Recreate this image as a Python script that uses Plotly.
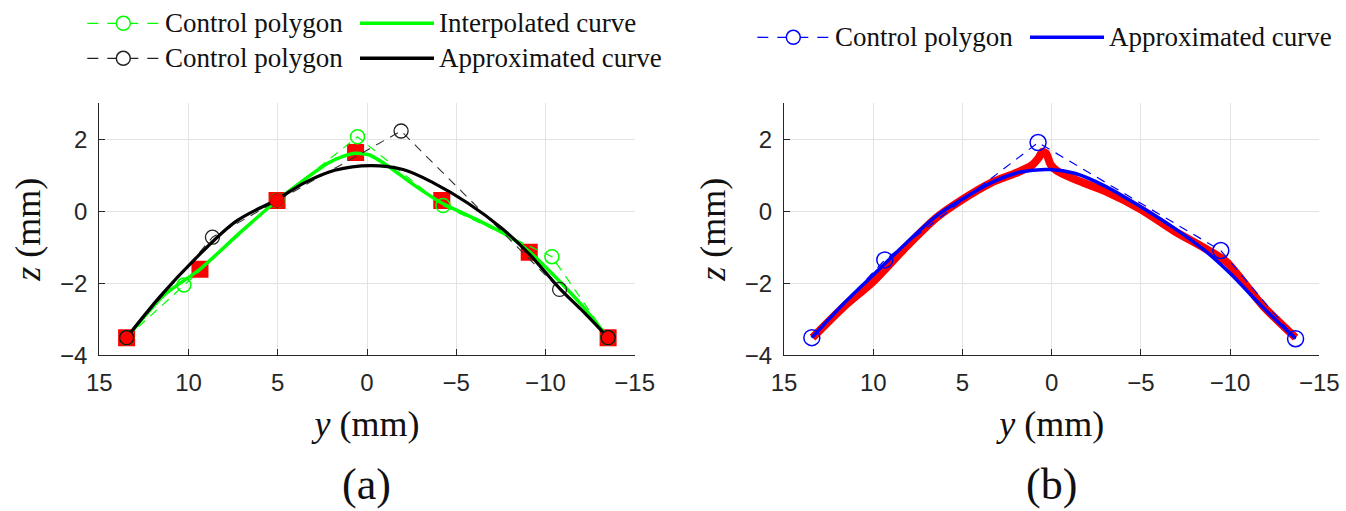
import plotly.graph_objects as go

W, H = 1346, 511

# ---------------- data: panel (a) ----------------
a_meas_y = [13.47, 9.36, 5.04, 0.64, -4.19, -9.09, -13.51]
a_meas_z = [-3.51, -1.61, 0.30, 1.63, 0.30, -1.14, -3.51]

a_key_y = [13.47, 5.04, -13.51]
a_key_z = [-3.51, 0.30, -3.51]

a_green_ctrl_y = [13.47, 10.26, 5.04, 0.53, -4.26, -10.36, -13.51]
a_green_ctrl_z = [-3.51, -2.05, 0.30, 2.07, 0.16, -1.26, -3.51]

a_green_curve_y = [13.47, 11.38, 9.36, 7.13, 5.04, 3.51, 2.23, 1.38, 0.64, -0.11,
                   -1.17, -2.66, -4.19, -5.85, -7.98, -9.09, -10.53, -12.02, -13.51]
a_green_curve_z = [-3.51, -2.33, -1.61, -0.60, 0.30, 0.88, 1.33, 1.52, 1.61, 1.57,
                   1.26, 0.72, 0.23, -0.16, -0.70, -1.12, -1.81, -2.60, -3.51]

a_black_ctrl_y = [13.47, 8.66, -1.91, -10.79, -13.51]
a_black_ctrl_z = [-3.51, -0.72, 2.23, -2.17, -3.51]

a_black_curve_y = [13.47, 11.6, 9.68, 7.34, 5.04, 3.51, 1.81, -0.21, -2.02, -3.72,
                   -5.64, -7.55, -9.04, -10.79, -12.23, -13.51]
a_black_curve_z = [-3.51, -2.37, -1.35, -0.28, 0.33, 0.79, 1.14, 1.27, 1.16, 0.79,
                   0.23, -0.47, -1.16, -2.14, -2.84, -3.51]

# ---------------- data: panel (b) ----------------
b_meas_y = [13.40, 11.65, 10.0, 8.14, 6.49, 4.99, 3.40, 1.96, 1.13, 0.72, 0.52, 0.31,
            0.06, -0.31, -1.34, -2.99, -5.01, -6.91, -8.56, -9.79, -11.86, -13.67]
b_meas_z = [-3.51, -2.65, -1.95, -0.98, -0.19, 0.33, 0.79, 1.07, 1.27, 1.49, 1.65, 1.61,
            1.30, 1.12, 0.88, 0.56, 0.05, -0.56, -1.02, -1.40, -2.64, -3.51]

b_ctrl_y = [13.44, 9.35, 0.76, -9.48, -13.67]
b_ctrl_z = [-3.51, -1.35, 1.91, -1.09, -3.54]

b_curve_y = [13.44, 11.65, 10.0, 8.14, 6.49, 4.99, 3.40, 1.75, 0.10, -1.34, -2.99,
             -5.01, -6.91, -8.56, -10.0, -11.86, -13.67]
b_curve_z = [-3.51, -2.56, -1.77, -0.88, -0.14, 0.34, 0.79, 1.09, 1.16, 1.05, 0.70,
             0.12, -0.48, -1.08, -1.72, -2.68, -3.53]

x_ticks = [15, 10, 5, 0, -5, -10, -15]
y_ticks = [-4, -2, 0, 2]
x_range = [15, -15]
y_range = [-4, 3]

GREEN = "#00ff00"
RED = "#ff0000"
BLUE = "#0000ff"
AXC = "#262626"
SERIF = "Liberation Serif"
SANS = "Liberation Sans"

fig = go.Figure()

# panel (a)
fig.add_trace(go.Scatter(x=a_meas_y, y=a_meas_z, mode="markers", xaxis="x", yaxis="y",
                         marker=dict(symbol="square", size=17, color=RED, line=dict(width=0)),
                         showlegend=False))
fig.add_trace(go.Scatter(x=a_green_ctrl_y, y=a_green_ctrl_z, mode="lines+markers", xaxis="x", yaxis="y",
                         line=dict(color=GREEN, width=1.2, dash="9px,7px"),
                         marker=dict(symbol="circle-open", size=14, color=GREEN, line=dict(width=1.5)),
                         name="Control polygon", showlegend=False))
fig.add_trace(go.Scatter(x=a_green_curve_y, y=a_green_curve_z, mode="lines", xaxis="x", yaxis="y",
                         line=dict(color=GREEN, width=3.5, shape="spline", smoothing=0.6),
                         name="Interpolated curve", showlegend=False))
fig.add_trace(go.Scatter(x=a_black_ctrl_y, y=a_black_ctrl_z, mode="lines+markers", xaxis="x", yaxis="y",
                         line=dict(color="#333333", width=1.1, dash="9px,7px"),
                         marker=dict(symbol="circle-open", size=14, color="#222222", line=dict(width=1.3)),
                         name="Control polygon", showlegend=False))
fig.add_trace(go.Scatter(x=a_black_curve_y, y=a_black_curve_z, mode="lines", xaxis="x", yaxis="y",
                         line=dict(color="#000000", width=3.2, shape="spline", smoothing=1.0),
                         name="Approximated curve", showlegend=False))
fig.add_trace(go.Scatter(x=a_key_y, y=a_key_z, mode="markers", xaxis="x", yaxis="y",
                         marker=dict(symbol="circle", size=14, color=RED,
                                     line=dict(width=1.2, color=["#111111", "#cc0000", "#111111"])),
                         showlegend=False))

# panel (b)
fig.add_trace(go.Scatter(x=b_meas_y, y=b_meas_z, mode="lines", xaxis="x2", yaxis="y2",
                         line=dict(color=RED, width=8, shape="spline", smoothing=0.7),
                         showlegend=False))
fig.add_trace(go.Scatter(x=b_ctrl_y, y=b_ctrl_z, mode="lines+markers", xaxis="x2", yaxis="y2",
                         line=dict(color=BLUE, width=1.2, dash="9px,7px"),
                         marker=dict(symbol="circle-open", size=16, color=BLUE, line=dict(width=1.5)),
                         name="Control polygon", showlegend=False))
fig.add_trace(go.Scatter(x=b_curve_y, y=b_curve_z, mode="lines", xaxis="x2", yaxis="y2",
                         line=dict(color=BLUE, width=3.5, shape="spline", smoothing=1.0),
                         name="Approximated curve", showlegend=False))


def px(x):
    return x / W


def py(y):
    return 1 - y / H


ax_common = dict(showgrid=True, gridcolor="#e3e3e3", gridwidth=1, zeroline=False,
                 showline=True, linecolor=AXC, linewidth=1.3, ticks="inside", ticklen=6,
                 tickcolor=AXC, tickwidth=1, tickfont=dict(family=SANS, size=24, color=AXC),
                 mirror=False, automargin=False)

ydom = [py(355.3), py(103.3)]
TFONT = dict(family=SERIF, size=36, color="#111111")

fig.update_layout(
    width=W, height=H, margin=dict(l=0, r=0, t=0, b=0, autoexpand=False),
    paper_bgcolor="white", plot_bgcolor="white",
    xaxis=dict(domain=[px(99.3), px(634.7)], range=x_range, tickvals=x_ticks, anchor="y",
               title=dict(text="<i>y</i> (mm)", font=TFONT, standoff=15),
               ticklabelstandoff=6, **ax_common),
    yaxis=dict(domain=ydom, range=y_range, tickvals=y_ticks, anchor="x",
               title=dict(text="<i>z</i> (mm)", font=TFONT, standoff=8),
               ticklabelstandoff=6, **ax_common),
    xaxis2=dict(domain=[px(784), px(1319.3)], range=x_range, tickvals=x_ticks, anchor="y2",
                title=dict(text="<i>y</i> (mm)", font=TFONT, standoff=15),
                ticklabelstandoff=6, **ax_common),
    yaxis2=dict(domain=ydom, range=y_range, tickvals=y_ticks, anchor="x2",
                title=dict(text="<i>z</i> (mm)", font=TFONT, standoff=8),
                ticklabelstandoff=6, **ax_common),
    showlegend=False,
)

# ---------------- hand-drawn legends ----------------
shapes = []
annotations = []


def legend_item(x0, x1, y, color, dashed, circle, text, tx, lw):
    shapes.append(dict(type="line", xref="paper", yref="paper", x0=px(x0), x1=px(x1), y0=py(y), y1=py(y),
                       line=dict(color=color, width=lw, dash="11px,9px" if dashed else "solid")))
    if circle:
        cx = (x0 + x1) / 2
        shapes.append(dict(type="circle", xref="paper", yref="paper", xsizemode="pixel", ysizemode="pixel",
                           xanchor=px(cx), yanchor=py(y), x0=-7, x1=7, y0=-7, y1=7,
                           fillcolor="white", line=dict(color=color, width=1.5)))
    annotations.append(dict(text=text, xref="paper", yref="paper", x=px(tx), y=py(y), xanchor="left",
                            yanchor="middle", showarrow=False, borderpad=0,
                            font=dict(family=SERIF, size=27, color="#111111")))


legend_item(87.3, 159.3, 23.3, GREEN, True, True, "Control polygon", 164, 1.3)
legend_item(360, 434, 23.3, GREEN, False, False, "Interpolated curve", 438, 3.5)
legend_item(87.3, 159.3, 58.3, "#222222", True, True, "Control polygon", 164, 1.3)
legend_item(360, 434, 58.3, "#000000", False, False, "Approximated curve", 438, 3.5)
legend_item(757.3, 829.3, 37.3, BLUE, True, True, "Control polygon", 834, 1.3)
legend_item(1030, 1104, 37.3, BLUE, False, False, "Approximated curve", 1108, 3.5)

annotations.append(dict(text="(a)", xref="paper", yref="paper", x=px(367), y=py(484), xanchor="center",
                        yanchor="middle", showarrow=False, borderpad=0,
                        font=dict(family=SERIF, size=44, color="#111111")))
annotations.append(dict(text="(b)", xref="paper", yref="paper", x=px(1051.7), y=py(484), xanchor="center",
                        yanchor="middle", showarrow=False, borderpad=0,
                        font=dict(family=SERIF, size=44, color="#111111")))

fig.update_layout(shapes=shapes, annotations=annotations)

fig.write_html("out.html")
